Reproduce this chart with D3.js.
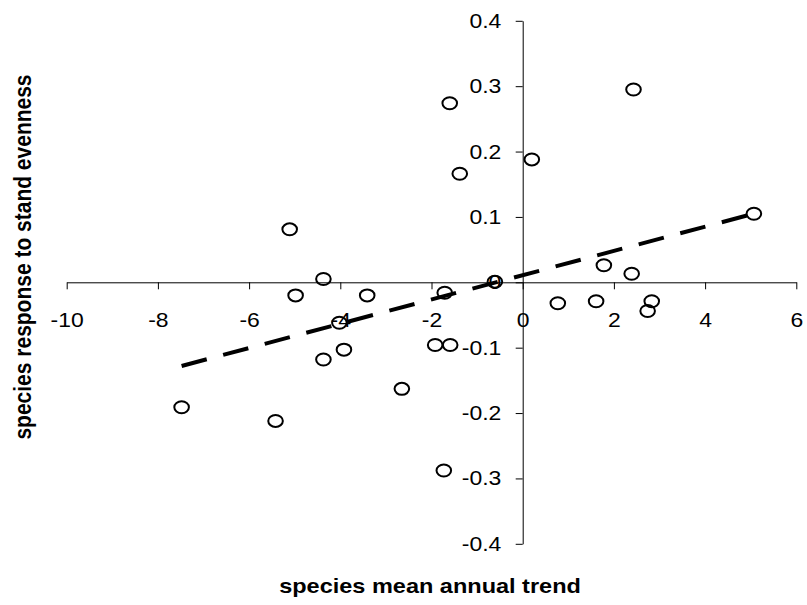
<!DOCTYPE html>
<html>
<head>
<meta charset="utf-8">
<script src="https://cdn.jsdelivr.net/npm/d3@7"></script>
<style>
  html, body { margin: 0; padding: 0; background: #fff; }
  svg { display: block; }
  text { font-family: "Liberation Sans", Arial, sans-serif; fill: #000; }
</style>
</head>
<body>
<div id="chart"></div>
<script>
// Scatter of species response vs mean annual trend, with dashed linear trend

// Point values
const trendValues = [-7.48, -5.42, -5.11, -4.98, -4.37, -4.37, -4.02, -3.92, -3.41, -2.65,
  -1.92, -1.59, -1.71, -1.60, -1.38, -1.73, -0.61, 0.20, 0.77, 1.61,
  1.78, 2.39, 2.43, 2.83, 2.74, 5.07];
const responseValues = [-0.191, -0.212, 0.081, -0.020, 0.005, -0.118, -0.062, -0.103, -0.020, -0.163,
  -0.096, -0.096, -0.016, 0.274, 0.166, -0.288, 0.001, 0.188, -0.032, -0.029,
  0.026, 0.013, 0.295, -0.029, -0.044, 0.105];

// Dashed trend line end points
const fitX = [-7.48, 5.07];
const fitY = [-0.128, 0.105];

// Tick labels
const xTicks = [-10, -8, -6, -4, -2, 0, 2, 4, 6];
const yTicks = [-0.4, -0.3, -0.2, -0.1, 0, 0.1, 0.2, 0.3, 0.4];

const xTitle = 'species mean annual trend';
const yTitle = 'species response to stand evenness';

const width = 807;
const height = 605;
const stretch = 1.12; // the original text is a bit wider than tall

const svg = d3.select('#chart')
  .append('svg')
  .attr('width', width)
  .attr('height', height);

const x = d3.scaleLinear().domain([-10, 6]).range([66.7, 796.3]);
const y = d3.scaleLinear().domain([-0.4, 0.4]).range([543.8, 20.8]);

// plain hyphen as minus sign, like the original
const xFmt = d => String(d);
const yFmt = d => d === 0 ? '0' : d.toFixed(1);

// x axis crosses at y = 0
const xAxis = svg.append('g')
  .attr('transform', `translate(0,${y(0)})`)
  .call(d3.axisBottom(x).tickValues(xTicks).tickSize(7).tickPadding(23)
    .tickFormat(xFmt).tickSizeOuter(0));

// y axis crosses at x = 0
const yAxis = svg.append('g')
  .attr('transform', `translate(${x(0)},0)`)
  .call(d3.axisLeft(y).tickValues(yTicks).tickSize(7).tickPadding(14)
    .tickFormat(yFmt).tickSizeOuter(0));

[xAxis, yAxis].forEach(g => {
  g.selectAll('.domain').attr('stroke', '#000').attr('stroke-width', 1);
  g.selectAll('.tick line').attr('stroke', '#000').attr('stroke-width', 1);
  g.selectAll('.tick text')
    .attr('font-size', 20.5)
    .attr('font-family', '"Liberation Sans", Arial, sans-serif')
    .attr('fill', '#000');
});
xAxis.selectAll('.tick text').attr('transform', `scale(${stretch},1)`);
yAxis.selectAll('.tick text')
  .attr('x', -21.4 / stretch)
  .attr('transform', `scale(${stretch},1)`);

// trend line
const fitData = fitX.map((v, i) => [v, fitY[i]]);
svg.append('path')
  .datum(fitData)
  .attr('fill', 'none')
  .attr('stroke', '#000')
  .attr('stroke-width', 4)
  .attr('stroke-dasharray', '26 17')
  .attr('d', d3.line().x(d => x(d[0])).y(d => y(d[1])));

// markers
const points = trendValues.map((v, i) => ({ tx: v, ry: responseValues[i] }));
svg.append('g')
  .selectAll('ellipse')
  .data(points)
  .enter().append('ellipse')
  .attr('cx', d => x(d.tx))
  .attr('cy', d => y(d.ry))
  .attr('rx', 7.3)
  .attr('ry', 6)
  .attr('fill', 'none')
  .attr('stroke', '#000')
  .attr('stroke-width', 2);

// axis titles
svg.append('text')
  .attr('transform', `translate(430,593) scale(${stretch},1)`)
  .attr('text-anchor', 'middle')
  .attr('font-size', 21)
  .attr('font-weight', 'bold')
  .text(xTitle);

svg.append('text')
  .attr('transform', `translate(31,257) scale(${stretch},1) rotate(-90)`)
  .attr('text-anchor', 'middle')
  .attr('font-size', 21)
  .attr('font-weight', 'bold')
  .text(yTitle);
</script>
</body>
</html>
